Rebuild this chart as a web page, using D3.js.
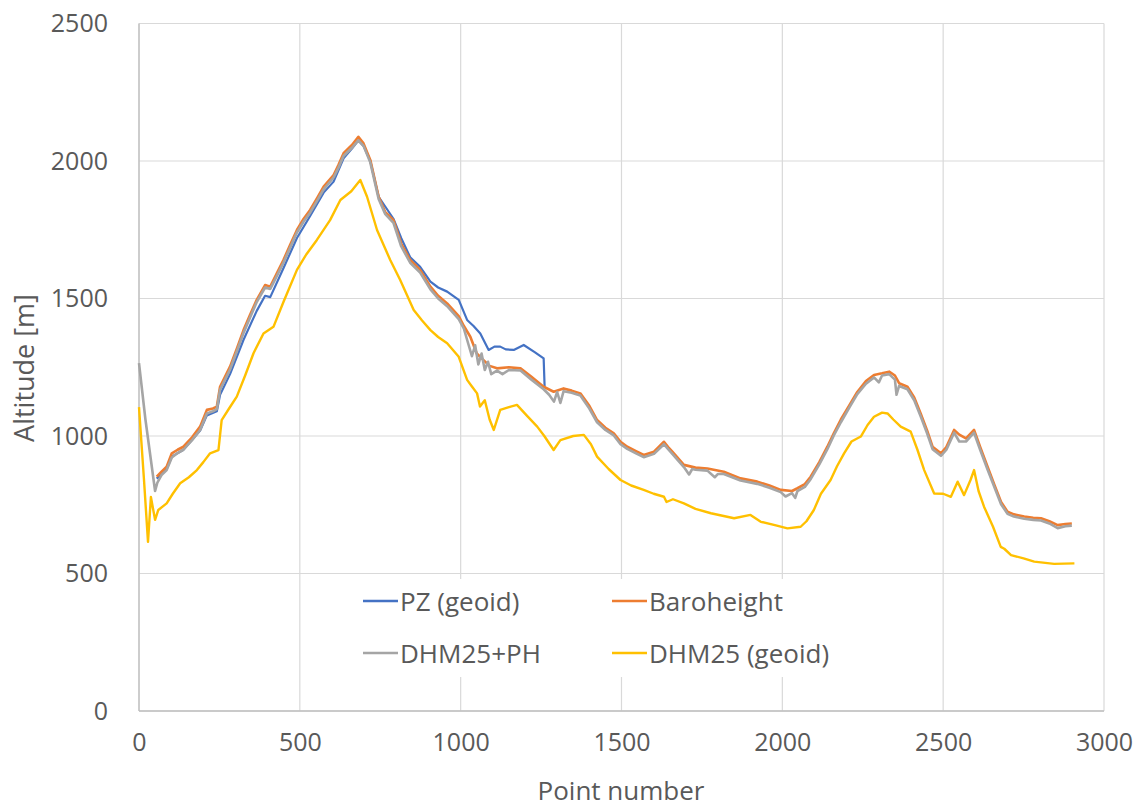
<!DOCTYPE html>
<html>
<head>
<meta charset="utf-8">
<script src="https://cdn.jsdelivr.net/npm/d3@7"></script>
<style>
  html, body { margin: 0; padding: 0; background: #ffffff; }
  svg { display: block; }
  text { font-family: "Open Sans", "DejaVu Sans", sans-serif; fill: #595959; }
</style>
</head>
<body>
<svg id="chart" width="1145" height="810"></svg>
<script>
// Altitude profiles along the track: [point number, altitude in m]
const pzGeoid = [
  [55,845],[86,880],[102,925],[138,950],[190,1020],[211,1075],[242,1090],[252,1150],[283,1225],
  [325,1350],[366,1455],[392,1510],[408,1505],[449,1610],[491,1720],[532,1800],[574,1885],[605,1925],
  [636,2010],[662,2045],[682,2075],[698,2055],[719,2000],[745,1870],[791,1790],[815,1720],[843,1650],
  [874,1615],[906,1561],[930,1540],[958,1525],[994,1495],[1020,1422],[1040,1400],[1061,1373],[1087,1313],
  [1105,1325],[1123,1325],[1140,1315],[1165,1313],[1196,1331],[1230,1305],[1258,1282],[1261,1179]
];

const baroheight = [
  [55,852],[70,870],[86,888],[102,937],[120,950],[138,961],[165,995],[190,1034],[211,1095],[230,1100],
  [242,1107],[252,1179],[283,1252],[305,1320],[325,1385],[345,1440],[366,1495],[392,1549],[408,1543],
  [430,1595],[449,1640],[470,1695],[491,1749],[512,1790],[532,1822],[555,1868],[574,1907],[605,1949],
  [620,1985],[636,2028],[662,2058],[682,2088],[698,2064],[719,2004],[745,1870],[765,1815],[791,1785],
  [815,1700],[843,1640],[874,1604],[906,1543],[930,1510],[958,1482],[994,1436],[1010,1400],[1030,1361],
  [1050,1300],[1071,1276],[1090,1255],[1113,1246],[1150,1250],[1186,1246],[1220,1215],[1258,1179],
  [1289,1161],[1320,1173],[1345,1165],[1372,1155],[1400,1110],[1424,1058],[1450,1030],[1476,1010],
  [1497,979],[1518,961],[1545,945],[1569,931],[1601,943],[1632,979],[1645,960],[1658,943],[1694,895],
  [1730,885],[1767,882],[1818,870],[1870,846],[1922,834],[1960,820],[1995,804],[2030,800],[2047,810],
  [2070,825],[2088,852],[2115,905],[2140,961],[2160,1010],[2182,1060],[2210,1115],[2233,1160],[2260,1200],
  [2285,1222],[2310,1228],[2332,1234],[2350,1220],[2363,1192],[2389,1179],[2410,1140],[2430,1082],
  [2450,1020],[2467,961],[2493,937],[2510,960],[2534,1022],[2550,1005],[2571,991],[2596,1022],[2615,960],
  [2638,888],[2660,820],[2680,760],[2700,725],[2720,715],[2752,707],[2780,703],[2804,701],[2830,690],
  [2856,676],[2880,680],[2900,682]
];

const dhm25PH = [
  [0,1265],[20,1060],[35,930],[50,800],[57,830],[70,858],[86,876],[102,922],[120,938],[138,950],[165,985],
  [190,1022],[211,1082],[230,1090],[242,1098],[252,1168],[283,1242],[305,1310],[325,1375],[345,1430],
  [366,1487],[392,1540],[408,1535],[430,1585],[449,1630],[470,1685],[491,1740],[512,1780],[532,1812],
  [555,1858],[574,1897],[605,1940],[620,1975],[636,2018],[662,2048],[682,2075],[698,2055],[719,1995],
  [745,1862],[765,1808],[791,1775],[815,1690],[843,1630],[874,1594],[906,1533],[930,1500],[958,1472],
  [994,1425],[1010,1390],[1025,1330],[1035,1290],[1045,1330],[1055,1260],[1065,1300],[1075,1240],
  [1085,1270],[1095,1225],[1113,1238],[1130,1225],[1150,1240],[1186,1238],[1220,1205],[1258,1170],
  [1275,1150],[1290,1125],[1300,1160],[1310,1120],[1320,1163],[1345,1157],[1372,1147],[1400,1100],
  [1424,1050],[1450,1022],[1476,1002],[1497,970],[1518,953],[1545,937],[1569,923],[1601,935],[1632,970],
  [1645,952],[1658,935],[1694,887],[1710,860],[1720,880],[1730,877],[1767,874],[1790,850],[1800,862],
  [1818,862],[1870,838],[1922,826],[1960,812],[1995,796],[2010,780],[2030,792],[2040,775],[2047,800],
  [2070,815],[2088,843],[2115,897],[2140,952],[2160,1002],[2182,1050],[2210,1107],[2233,1152],[2260,1190],
  [2285,1213],[2300,1195],[2310,1220],[2332,1225],[2350,1205],[2355,1150],[2363,1182],[2389,1170],
  [2410,1130],[2430,1072],[2450,1010],[2467,952],[2493,928],[2510,950],[2534,1012],[2550,980],[2571,980],
  [2596,1012],[2615,950],[2638,878],[2660,812],[2680,752],[2700,717],[2720,707],[2752,699],[2780,695],
  [2804,693],[2830,682],[2856,665],[2880,672],[2900,674]
];

const dhm25Geoid = [
  [0,1105],[15,850],[28,615],[37,778],[50,695],[60,731],[86,755],[105,790],[128,828],[155,850],[180,876],
  [200,905],[221,937],[247,949],[257,1058],[280,1100],[304,1143],[330,1220],[356,1301],[387,1373],
  [418,1397],[450,1490],[491,1604],[520,1660],[553,1713],[594,1785],[626,1858],[660,1890],[688,1931],
  [709,1870],[740,1749],[781,1640],[812,1567],[854,1458],[880,1420],[906,1385],[930,1360],[958,1337],
  [994,1288],[1020,1204],[1035,1180],[1051,1155],[1060,1107],[1075,1130],[1090,1060],[1103,1022],
  [1123,1095],[1150,1105],[1175,1113],[1205,1075],[1238,1034],[1260,1000],[1289,949],[1310,985],
  [1350,1000],[1383,1004],[1405,970],[1424,925],[1460,880],[1497,840],[1530,820],[1569,804],[1600,790],
  [1632,779],[1640,760],[1660,770],[1694,755],[1730,735],[1778,719],[1850,701],[1901,713],[1933,688],
  [1980,675],[2016,664],[2057,670],[2075,690],[2098,731],[2120,790],[2150,840],[2170,890],[2192,937],
  [2215,980],[2244,998],[2265,1040],[2285,1070],[2310,1085],[2327,1082],[2345,1060],[2368,1034],
  [2399,1016],[2420,950],[2441,876],[2472,791],[2500,790],[2524,779],[2545,834],[2565,785],[2585,840],
  [2596,876],[2610,800],[2627,743],[2655,670],[2679,597],[2690,590],[2711,567],[2750,555],[2783,543],
  [2845,535],[2908,537]
];

const xTicks = [0, 500, 1000, 1500, 2000, 2500, 3000];
const yTicks = [0, 500, 1000, 1500, 2000, 2500];

const seriesNames = ["PZ (geoid)", "Baroheight", "DHM25+PH", "DHM25 (geoid)"];
const seriesColors = ["#4472C4", "#ED7D31", "#A5A5A5", "#FFC000"];
const seriesData = [pzGeoid, baroheight, dhm25PH, dhm25Geoid];

const svg = d3.select("#chart");
const plot = { left: 139, right: 1104, top: 23.5, bottom: 711 };

const x = d3.scaleLinear().domain([0, 3000]).range([plot.left, plot.right]);
const y = d3.scaleLinear().domain([0, 2500]).range([plot.bottom, plot.top]);

// gridlines
const grid = svg.append("g");
grid.selectAll("line.v").data(xTicks).join("line")
  .attr("x1", d => x(d)).attr("x2", d => x(d))
  .attr("y1", plot.top).attr("y2", plot.bottom)
  .attr("stroke", "#d9d9d9").attr("stroke-width", 1.2);
grid.selectAll("line.h").data(yTicks).join("line")
  .attr("x1", plot.left).attr("x2", plot.right)
  .attr("y1", d => y(d)).attr("y2", d => y(d))
  .attr("stroke", "#d9d9d9").attr("stroke-width", 1.2);

// axis lines
svg.append("line").attr("x1", plot.left).attr("x2", plot.left)
  .attr("y1", plot.top).attr("y2", plot.bottom).attr("stroke", "#bfbfbf").attr("stroke-width", 1.3);
svg.append("line").attr("x1", plot.left).attr("x2", plot.right)
  .attr("y1", plot.bottom).attr("y2", plot.bottom).attr("stroke", "#bfbfbf").attr("stroke-width", 1.3);

// tick labels through d3 axes
const yAxis = svg.append("g").attr("transform", `translate(${plot.left},0)`)
  .call(d3.axisLeft(y).tickValues(yTicks).tickSize(0).tickPadding(31).tickFormat(d3.format("d")));
const xAxis = svg.append("g").attr("transform", `translate(0,${plot.bottom})`)
  .call(d3.axisBottom(x).tickValues(xTicks).tickSize(0).tickPadding(22).tickFormat(d3.format("d")));
[yAxis, xAxis].forEach(a => {
  a.select(".domain").remove();
  a.selectAll("text").attr("font-size", 25).attr("fill", "#595959")
    .attr("font-family", "'Open Sans', sans-serif");
});

// axis titles
svg.append("text").attr("x", 621).attr("y", 800).attr("text-anchor", "middle")
  .attr("font-size", 26).text("Point number");
svg.append("text").attr("transform", "translate(34,368) rotate(-90)")
  .attr("text-anchor", "middle").attr("font-size", 27).text("Altitude [m]");

// series lines
const line = d3.line().x(d => x(d[0])).y(d => y(d[1]));
const widths = [2.2, 2.6, 2.6, 2.4];
seriesData.forEach((data, i) => {
  svg.append("path").datum(data)
    .attr("d", line)
    .attr("fill", "none")
    .attr("stroke", seriesColors[i])
    .attr("stroke-width", widths[i])
    .attr("stroke-linejoin", "round");
});

// legend
const legend = svg.append("g");
legend.append("rect").attr("x", 345).attr("y", 579).attr("width", 447).attr("height", 98)
  .attr("fill", "#ffffff");
const legendPos = [[363, 601], [612, 601], [363, 653], [612, 653]];
seriesNames.forEach((name, i) => {
  const [lx, ly] = legendPos[i];
  legend.append("line").attr("x1", lx).attr("x2", lx + 35).attr("y1", ly).attr("y2", ly)
    .attr("stroke", seriesColors[i]).attr("stroke-width", 2.4);
  legend.append("text").attr("x", lx + 37).attr("y", ly + 9.5).attr("font-size", 26).text(name);
});
</script>
</body>
</html>
